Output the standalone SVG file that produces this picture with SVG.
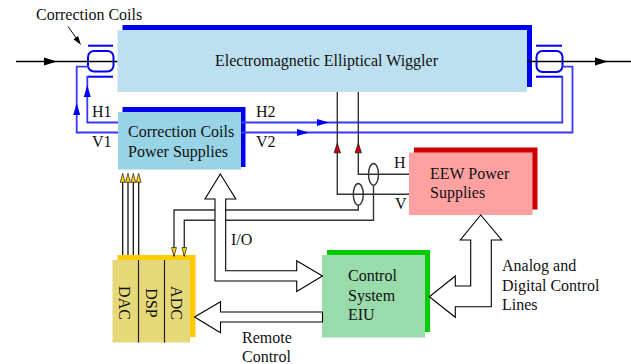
<svg xmlns="http://www.w3.org/2000/svg" xmlns:xlink="http://www.w3.org/1999/xlink" width="631" height="364" viewBox="0 0 631 364" font-family="'Liberation Serif', 'DejaVu Serif', serif">
<style>
text{font-family:'Liberation Serif','DejaVu Serif',serif;font-size:16px;fill:#111}
.bw{fill:none;stroke:#3838ff;stroke-width:1.8}
.coil{fill:none;stroke:#0000ff;stroke-width:2}
.bl{fill:none;stroke:#333;stroke-width:1.4}
.blk{fill:none;stroke:#000;stroke-width:1.2}
.hollow{fill:#fff;stroke:#000;stroke-width:1.1;stroke-linejoin:miter}
</style>
<defs>
<path id="ahB" d="M0,0 L-12,-3.5 L-12,3.5 Z" fill="#0000ff"/>
<path id="ahK" d="M0,0 L-13,-4 L-13,4 Z" fill="#000"/>
<path id="ahR" d="M0,0 L-9.5,-3.2 L-9.5,3.2 Z" fill="#cc0000" stroke="#222" stroke-width="0.8"/>
<path id="ahY" d="M0,0 L-9,-2.4 L-9,2.4 Z" fill="#ffcc00" stroke="#222" stroke-width="0.7"/>
</defs>

<g id="wiggler">
<rect x="122.5" y="25" width="409.5" height="62" fill="#0000ee"/>
<rect x="117.5" y="30" width="409.5" height="62" fill="#bde0f0"/>
<text x="215" y="66" font-family="Liberation Serif">Electromagnetic Elliptical Wiggler</text>
</g>

<g id="ccps">
<rect x="122.5" y="107" width="123" height="60" fill="#0000ee"/>
<rect x="118" y="112" width="123" height="57.5" fill="#99d3e6"/>
<text x="128" y="137">Correction Coils</text>
<text x="128" y="157">Power Supplies</text>
</g>

<g id="eew">
<rect x="414" y="147.5" width="123.5" height="62" fill="#cc0000"/>
<rect x="409" y="152.5" width="123.5" height="62.5" fill="#ffa1a1"/>
<text x="430" y="179">EEW Power</text>
<text x="430" y="198">Supplies</text>
</g>

<g id="eiu">
<rect x="327" y="250" width="103" height="82" fill="#00cc00"/>
<rect x="322" y="255" width="103" height="82.5" fill="#99dbaa"/>
<text x="348" y="281">Control</text>
<text x="348" y="300.5">System</text>
<text x="348" y="320">EIU</text>
</g>

<g id="dsp">
<rect x="117.5" y="255" width="78" height="82" fill="#ffcc00"/>
<rect x="112.5" y="260" width="77.5" height="82.5" fill="#e6d97a"/>
<line x1="138.5" y1="260" x2="138.5" y2="342.5" stroke="#222" stroke-width="1.2"/>
<line x1="164.5" y1="260" x2="164.5" y2="342.5" stroke="#222" stroke-width="1.2"/>
<text transform="translate(119,303) rotate(90)" text-anchor="middle">DAC</text>
<text transform="translate(145.5,303) rotate(90)" text-anchor="middle">DSP</text>
<text transform="translate(171,303) rotate(90)" text-anchor="middle">ADC</text>
</g>

<g id="coil-left">
<rect x="88" y="51" width="25.5" height="20.5" rx="6" class="coil"/>
<line x1="88" y1="45.7" x2="113" y2="45.7" class="coil"/>
<line x1="88" y1="76.7" x2="113" y2="76.7" class="coil"/>
</g>
<g id="coil-right">
<rect x="536.5" y="51" width="26" height="21" rx="6" class="coil"/>
<line x1="536" y1="45.7" x2="562" y2="45.7" class="coil"/>
<line x1="536" y1="76.7" x2="562" y2="76.7" class="coil"/>
</g>

<g id="labels">
<text x="36" y="20">Correction Coils</text>
<text x="92" y="117">H1</text>
<text x="92" y="147">V1</text>
<text x="256" y="117">H2</text>
<text x="256" y="147">V2</text>
<text x="394" y="168">H</text>
<text x="395" y="209">V</text>
<text x="231" y="245">I/O</text>
<text x="242" y="343">Remote</text>
<text x="242" y="362">Control</text>
<text x="502" y="270.5">Analog and</text>
<text x="502" y="290.5">Digital Control</text>
<text x="502" y="309.5">Lines</text>
</g>

<g id="connectors">
<line x1="16" y1="61.5" x2="117.5" y2="61.5" stroke="#000" stroke-width="1.3"/>
<use xlink:href="#ahK" transform="translate(57,61.5)"/>
<line x1="527" y1="61.5" x2="631" y2="61.5" stroke="#000" stroke-width="1.3"/>
<use xlink:href="#ahK" transform="translate(608,61.5)"/>
<line x1="68" y1="26.5" x2="79" y2="42" stroke="#000" stroke-width="1"/>
<use xlink:href="#ahK" transform="translate(81,45) rotate(55) scale(0.7)"/>
<polyline class="bw" points="118,122.5 87.3,122.5 87.3,76.7 89,76.7"/>
<use xlink:href="#ahB" transform="translate(87.3,85) rotate(-90)"/>
<polyline class="bw" points="118,132.5 76.7,132.5 76.7,66.7 89,66.7"/>
<use xlink:href="#ahB" transform="translate(76.7,103) rotate(-90)"/>
<polyline class="bw" points="241,122.5 562.3,122.5 562.3,76.7 561,76.7"/>
<use xlink:href="#ahB" transform="translate(329,122.5)"/>
<polyline class="bw" points="241,132.5 572.5,132.5 572.5,66.7 562,66.7"/>
<use xlink:href="#ahB" transform="translate(309,132.5)"/>
<polyline class="bl" points="337.3,92 337.3,194.3 409,194.3"/>
<polyline class="bl" points="358.3,92 358.3,174.3 409,174.3"/>
<use xlink:href="#ahR" transform="translate(337.3,143.3) rotate(-90)"/>
<use xlink:href="#ahR" transform="translate(358.3,143.3) rotate(-90)"/>
<ellipse cx="373.5" cy="174.3" rx="5" ry="10.8" class="bl"/>
<ellipse cx="358.3" cy="194.3" rx="5" ry="10.8" class="bl"/>
<polyline class="bl" points="358.3,205 358.3,210 174,210 174,256"/>
<polyline class="bl" points="373.5,185 373.5,220.3 184.3,220.3 184.3,256"/>
<use xlink:href="#ahY" transform="translate(174,256.5) rotate(90)"/>
<use xlink:href="#ahY" transform="translate(184.3,256.5) rotate(90)"/>
<line x1="122.7" y1="178" x2="122.7" y2="255" class="blk"/>
<line x1="128" y1="178" x2="128" y2="255" class="blk"/>
<line x1="133.3" y1="178" x2="133.3" y2="255" class="blk"/>
<line x1="138.7" y1="178" x2="138.7" y2="255" class="blk"/>
<use xlink:href="#ahY" transform="translate(122.7,173.3) rotate(-90)"/>
<use xlink:href="#ahY" transform="translate(128,173.3) rotate(-90)"/>
<use xlink:href="#ahY" transform="translate(133.3,173.3) rotate(-90)"/>
<use xlink:href="#ahY" transform="translate(138.7,173.3) rotate(-90)"/>
<polygon class="hollow" points="220.3,174 235.8,199 225.7,199 225.7,270.7 296.7,270.7 296.7,260.7 322.5,276 296.7,291.5 296.7,281 215,281 215,199 205,199"/>
<polygon class="hollow" points="322.5,312 220.5,312 220.5,301.7 194.5,317 220.5,332.7 220.5,322 322.5,322"/>
<polygon class="hollow" points="480.7,215 501.7,240 491.3,240 491.3,306.7 455.3,306.7 455.3,317.3 429.3,296.7 455.3,276 455.3,286 470.7,286 470.7,240 460.3,240"/>
</g>
</svg>
